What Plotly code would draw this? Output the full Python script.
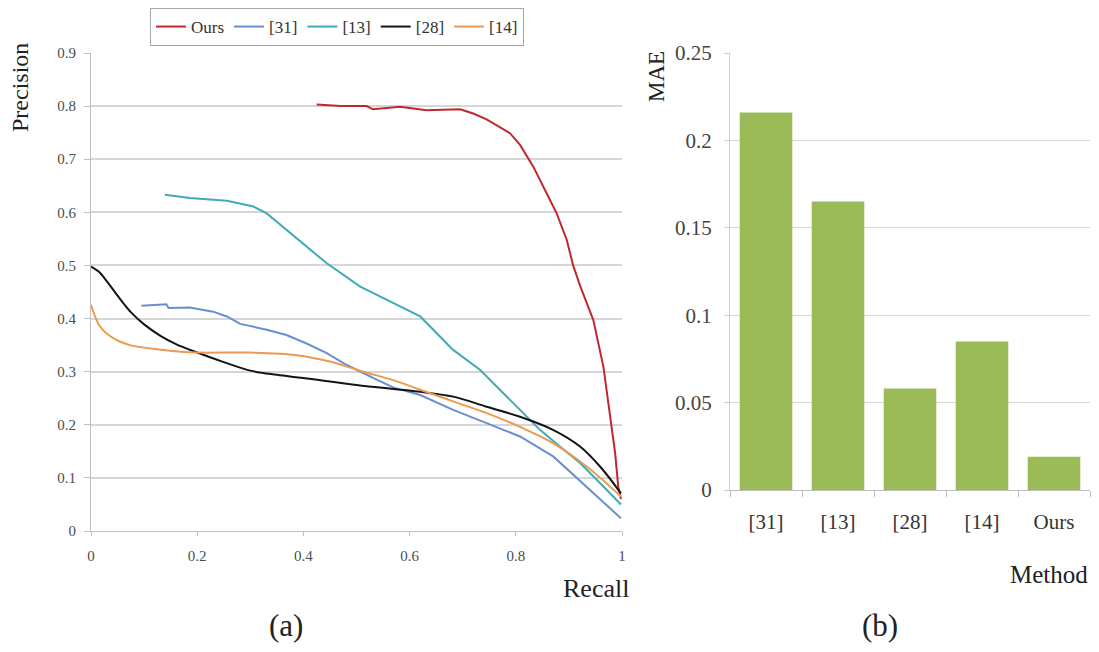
import plotly.graph_objects as go

# ---- Data: precision-recall curves (a) ----
ours_recall = [0.425, 0.47, 0.519, 0.531, 0.582, 0.632, 0.695, 0.72, 0.745, 0.77, 0.789, 0.808,
               0.833, 0.858, 0.877, 0.896, 0.908, 0.921, 0.946, 0.965, 0.977, 0.987, 0.993, 0.998]
ours_precision = [0.803, 0.800, 0.800, 0.794, 0.799, 0.792, 0.794, 0.786, 0.775, 0.761, 0.749, 0.727,
                  0.686, 0.636, 0.598, 0.548, 0.500, 0.462, 0.397, 0.309, 0.222, 0.147, 0.083, 0.060]

r31_recall = [0.095, 0.142, 0.146, 0.186, 0.230, 0.256, 0.281, 0.331, 0.368, 0.406, 0.444, 0.481,
              0.532, 0.570, 0.620, 0.682, 0.745, 0.808, 0.871, 0.934, 0.998]
r31_precision = [0.424, 0.427, 0.420, 0.421, 0.413, 0.404, 0.390, 0.379, 0.369, 0.353, 0.335, 0.313,
                 0.288, 0.270, 0.256, 0.228, 0.203, 0.178, 0.140, 0.083, 0.024]

r13_recall = [0.139, 0.186, 0.256, 0.306, 0.331, 0.368, 0.406, 0.444, 0.507, 0.569, 0.620, 0.682,
              0.733, 0.770, 0.808, 0.846, 0.883, 0.921, 0.959, 0.998]
r13_precision = [0.633, 0.627, 0.622, 0.611, 0.598, 0.567, 0.535, 0.504, 0.460, 0.429, 0.404, 0.341,
                 0.303, 0.266, 0.228, 0.190, 0.159, 0.128, 0.090, 0.050]

r28_recall = [0.0, 0.015, 0.03, 0.05, 0.075, 0.10, 0.13, 0.16, 0.20, 0.25, 0.30, 0.35, 0.40, 0.50,
              0.62, 0.682, 0.745, 0.808, 0.871, 0.921, 0.959, 0.998]
r28_precision = [0.498, 0.488, 0.470, 0.443, 0.412, 0.389, 0.368, 0.352, 0.336, 0.318, 0.302, 0.294,
                 0.288, 0.275, 0.262, 0.253, 0.234, 0.215, 0.190, 0.159, 0.121, 0.071]

r14_recall = [0.0, 0.017, 0.042, 0.073, 0.136, 0.199, 0.293, 0.387, 0.45, 0.513, 0.569, 0.62, 0.682,
              0.745, 0.808, 0.871, 0.934, 0.998]
r14_precision = [0.426, 0.385, 0.363, 0.350, 0.341, 0.336, 0.336, 0.331, 0.319, 0.300, 0.284, 0.266,
                 0.244, 0.222, 0.196, 0.165, 0.121, 0.065]

# ---- Data: MAE bars (b) ----
methods = ["[31]", "[13]", "[28]", "[14]", "Ours"]
mae = [0.216, 0.165, 0.058, 0.085, 0.019]

# page body has an 8px margin: lay out in page pixels, offset by it
OFF = 8
W, H = 1099 - 2 * OFF, 652 - 2 * OFF
def px(x):
    return (x - OFF) / W
def py(y):
    return 1 - (y - OFF) / H

SERIF = "Liberation Serif, Times New Roman, serif"
TICK = "#4d4d4d"
GRID = "#d6d6d6"

fig = go.Figure()
curves = [
    ("Ours", ours_recall, ours_precision, "#c0282d", "linear"),
    ("[31]", r31_recall, r31_precision, "#6a8fd0", "linear"),
    ("[13]", r13_recall, r13_precision, "#3faab8", "linear"),
    ("[28]", r28_recall, r28_precision, "#141414", "spline"),
    ("[14]", r14_recall, r14_precision, "#eb9a50", "spline"),
]
for name, xs, ys, col, shape in curves:
    fig.add_trace(go.Scatter(x=xs, y=ys, mode="lines", name=name,
                             line=dict(color=col, width=2, shape=shape),
                             xaxis="x", yaxis="y"))

fig.add_trace(go.Bar(x=methods, y=mae, marker=dict(color="#9bbb59", line=dict(width=0)),
                     showlegend=False, xaxis="x2", yaxis="y2"))

fig.update_layout(
    template="none",
    width=W, height=H, autosize=False,
    margin=dict(l=0, r=0, t=0, b=0, pad=0),
    paper_bgcolor="white", plot_bgcolor="white",
    font=dict(family=SERIF, color="#222222"),
    bargap=0.27,
    xaxis=dict(domain=[px(91), px(622)], range=[0, 1], dtick=0.2, tick0=0, automargin=False,
               showgrid=False, zeroline=False, showline=True, linecolor="#bfbfbf", linewidth=1,
               ticks="outside", ticklen=4, tickcolor="#bfbfbf", ticklabelstandoff=7,
               tickfont=dict(size=15, color=TICK, family=SERIF), anchor="y"),
    yaxis=dict(domain=[py(531), py(53)], range=[0, 0.9], dtick=0.1, tick0=0, automargin=False,
               showgrid=True, gridcolor=GRID, gridwidth=1.5, zeroline=False,
               showline=True, linecolor="#bfbfbf", linewidth=1,
               ticks="outside", ticklen=6, tickcolor="#bfbfbf", ticklabelstandoff=5,
               tickfont=dict(size=15, color=TICK, family=SERIF), anchor="x"),
    xaxis2=dict(domain=[px(730), px(1090)], showgrid=False, zeroline=False, automargin=False,
                showline=True, linecolor="#bfbfbf", linewidth=1,
                ticks="outside", tickson="boundaries", ticklen=6, tickcolor="#bfbfbf",
                ticklabelstandoff=13,
                tickfont=dict(size=21, color="#333333", family=SERIF), anchor="y2"),
    yaxis2=dict(domain=[py(490), py(53)], range=[0, 0.25], dtick=0.05, tick0=0, automargin=False,
                showgrid=True, gridcolor=GRID, gridwidth=1, zeroline=False,
                showline=True, linecolor="#d0d0d0", linewidth=1,
                ticks="outside", ticklen=5, tickcolor="#d0d0d0", ticklabelstandoff=8,
                tickfont=dict(size=21, color="#444444", family=SERIF), anchor="x2"),
    legend=dict(orientation="h", x=px(150), y=1.0, xanchor="left", yanchor="top",
                bordercolor="#a6a6a6", borderwidth=1, bgcolor="white",
                font=dict(size=17, family=SERIF, color="#333333"),
                itemwidth=30, tracegroupgap=0),
)

annos = [
    dict(text="Precision", x=px(20), y=py(88), textangle=-90, size=24),
    dict(text="Recall", x=px(596), y=py(588), textangle=0, size=26),
    dict(text="(a)", x=px(286), y=py(625), textangle=0, size=31),
    dict(text="MAE", x=px(656), y=py(77), textangle=-90, size=23),
    dict(text="Method", x=px(1049), y=py(574), textangle=0, size=25),
    dict(text="(b)", x=px(880), y=py(625), textangle=0, size=31),
]
for a in annos:
    fig.add_annotation(text=a["text"], x=a["x"], y=a["y"], xref="paper", yref="paper",
                       xanchor="center", yanchor="middle", showarrow=False,
                       textangle=a["textangle"],
                       font=dict(size=a["size"], family=SERIF, color="#222222"))

fig.write_html("out.html")
